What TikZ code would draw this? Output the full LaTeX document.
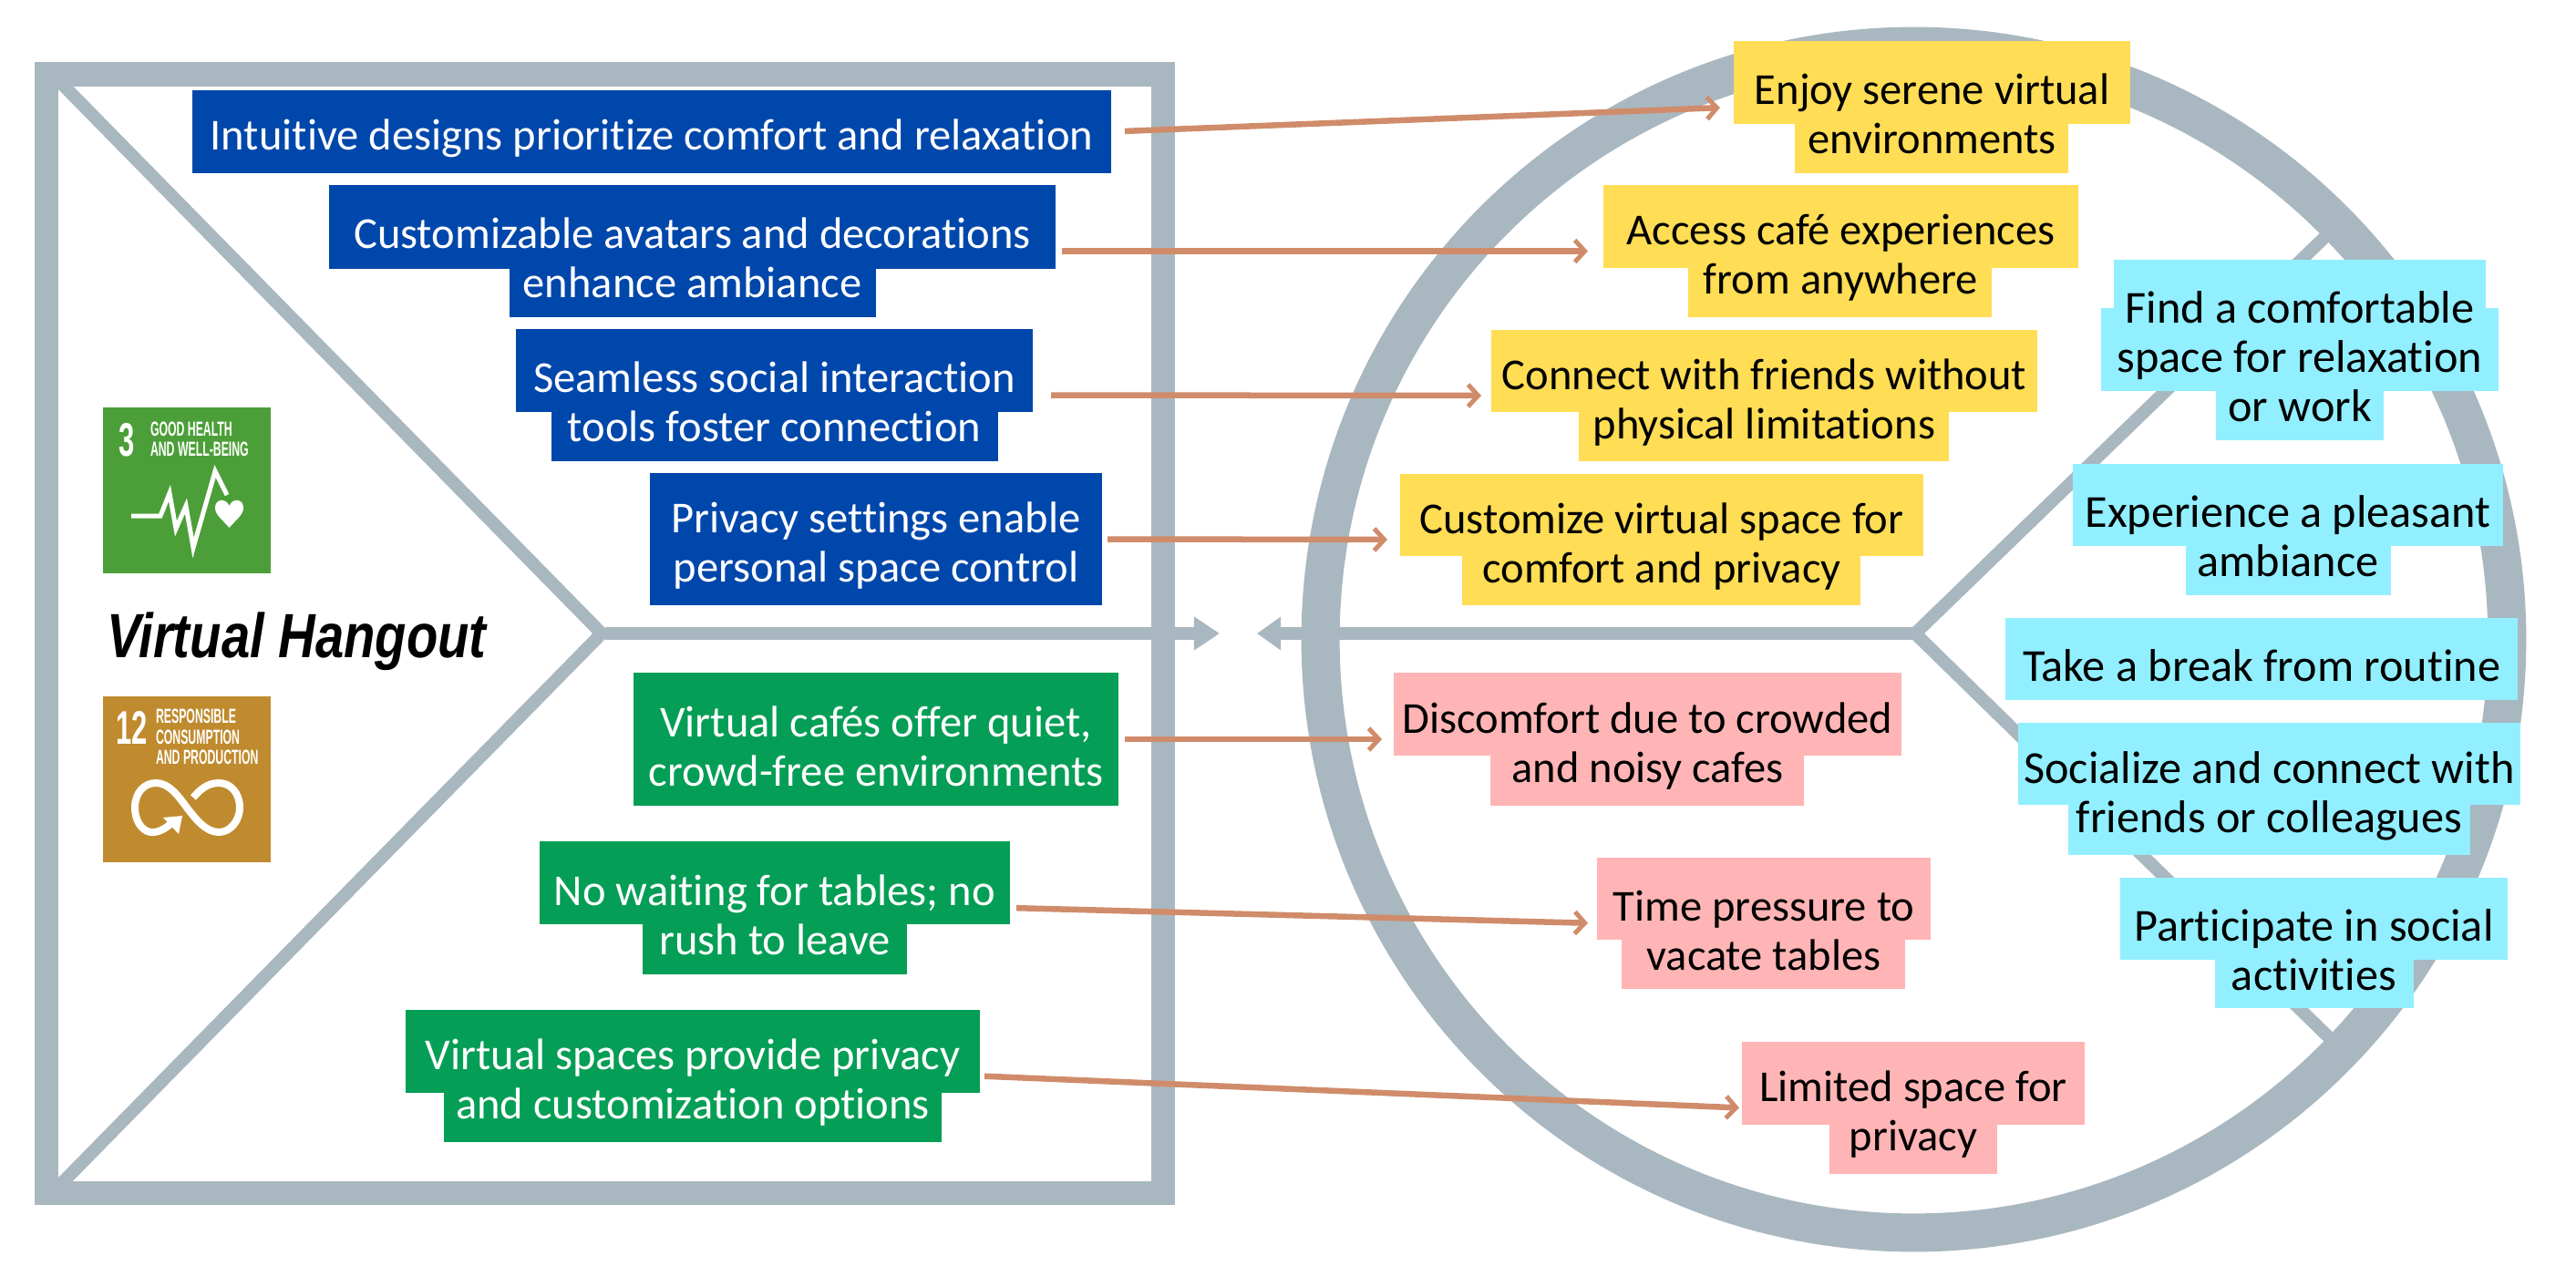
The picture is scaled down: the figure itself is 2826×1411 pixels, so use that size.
\documentclass[tikz,border=0pt]{standalone}
\usepackage{fontspec}
\setmainfont{Carlito}[Ligatures=NoCommon]
\newfontfamily\logosmall[FakeStretch=0.55]{Liberation Sans}
\newfontfamily\lognum[FakeStretch=0.6]{Liberation Sans}
\newfontfamily\titlefont[FakeStretch=0.82]{Liberation Sans}
\usetikzlibrary{arrows.meta}
\definecolor{framegray}{HTML}{A9B7C0}
\definecolor{connbrown}{HTML}{D08C6A}
\definecolor{hlblue}{HTML}{0047AB}
\definecolor{hlgreen}{HTML}{059E56}
\definecolor{hlyellow}{HTML}{FFDD55}
\definecolor{hlpink}{HTML}{FFB5B5}
\definecolor{hlcyan}{HTML}{91EFFF}
\definecolor{sdggreen}{HTML}{4C9F38}
\definecolor{sdgbrown}{HTML}{BF8B2E}
\newcommand{\hl}[5]{\fill[#1] (#2,#3) rectangle (#4,#5);}
\newcommand{\tbox}[7]{\node[#2, minimum width={(#5-#3)*0.01cm}, minimum height={(#6-#4)*0.01cm}] (#1) at ({(#3+#5)/2},{(#4+#6)/2}) {#7};}
\tikzset{
  labeltxt/.style={inner sep=0pt, outer sep=0pt, align=center, yshift=-0.075cm, font=\fontsize{13.8}{15.37}\selectfont},
  ontxtw/.style={labeltxt, text=white},
  ontxtk/.style={labeltxt, text=black},
  ontxtc/.style={labeltxt, text=black, font=\fontsize{14.3}{15.37}\selectfont},
  logolab/.style={inner sep=0pt, outer sep=0pt, anchor=base west, text=white, font=\logosmall\fontsize{6.35}{7}\selectfont\bfseries},
  lognr/.style={inner sep=0pt, outer sep=0pt, anchor=base west, text=white, font=\lognum\fontsize{14.7}{15}\selectfont\bfseries},
  framepen/.style={draw=framegray, line width=0.14cm, line join=miter},
  conn/.style={draw=connbrown, line width=0.065cm, -{Straight Barb[length=0.11cm, width=0.24cm, line width=0.05cm]}},
}
\begin{document}
\begin{tikzpicture}[x=0.01cm, y=-0.01cm]
\useasboundingbox (0,0) rectangle (2826,1411);
\fill[white] (0,0) rectangle (2826,1411);

% coordinates of the structure
\coordinate (lctop) at (60,84);
\coordinate (lcapex) at (660,695);
\coordinate (lcbot) at (60,1306);
\coordinate (lline) at (664,695);
\coordinate (ltip) at (1338,695);
\coordinate (rcapex) at (2101,695);
\coordinate (rctop) at (2565,246);
\coordinate (rcbot) at (2565,1148);
\coordinate (rline) at (2098,695);
\coordinate (rtip) at (1379,695);

% left chevron and arrow stub
\draw[framepen] (lctop) -- (lcapex) -- (lcbot);
\draw[draw=framegray, line width=0.145cm, -{Triangle[length=0.28cm, width=0.35cm]}] (lline) -- (ltip);
% frame
\draw[draw=framegray, line width=0.265cm] (51,81.5) rectangle (1276,1309);
% right chevron
\draw[framepen] (rctop) -- (rcapex) -- (rcbot);
\draw[draw=framegray, line width=0.145cm, -{Triangle[length=0.26cm, width=0.35cm]}] (rline) -- (rtip);
% circle
\draw[draw=framegray, line width=0.42cm] (2099.5,701.5) circle (6.505cm);

% SDG tiles
\fill[sdggreen] (113,447) rectangle (297,629);
\fill[sdgbrown] (113,764) rectangle (297,946);
\node[lognr] (s3n) at (130,500) {3};
\node[logolab] (s3a) at (165,478) {GOOD HEALTH};
\node[logolab] (s3b) at (165,500) {AND WELL-BEING};
\draw[white, line width=0.05cm, line join=miter] (144,566) -- (176,566) -- (186,541) -- (193,580) -- (204,555) -- (212,601) -- (236,517) -- (249,543);
\fill[white] (251.5,579) .. controls (244,570) and (236,565) .. (236,557) .. controls (236,547) and (248,546) .. (251.5,555) .. controls (255,546) and (267,547) .. (267,557) .. controls (267,565) and (259,570) .. (251.5,579) -- cycle;
\node[lognr] (s12n) at (127,816) {12};
\node[logolab] (s12a) at (171,793) {RESPONSIBLE};
\node[logolab] (s12b) at (171,816) {CONSUMPTION};
\node[logolab] (s12c) at (171,838) {AND PRODUCTION};
\draw[white, line width=0.08cm] (192,899) .. controls (182,911) and (170,914) .. (165,913) .. controls (155,911) and (148,900) .. (148,886) .. controls (148,870) and (158,859) .. (171,859) .. controls (186,859) and (196,874) .. (205,886) .. controls (215,899) and (226,913) .. (240,913) .. controls (253,913) and (263,900) .. (263,886) .. controls (263,870) and (253,859) .. (240,859) .. controls (227,859) and (219,867) .. (212,875);
\fill[white] (179,897) -- (200,895) -- (196,915) -- cycle;

% title
\node[inner sep=0pt, outer sep=0pt, anchor=base west, font=\titlefont\fontsize{19.5}{22}\selectfont\bfseries\itshape] (title) at (117,721) {Virtual Hangout};

% highlight strips
\hl{hlblue}{211}{99}{1219}{190}
\hl{hlblue}{361}{203}{1158}{295}
\hl{hlblue}{559}{257}{961}{348}
\hl{hlblue}{566}{361}{1133}{452}
\hl{hlblue}{605}{415}{1095}{506}
\hl{hlblue}{713}{519}{1209}{664}
\hl{hlgreen}{695}{738}{1227}{884}
\hl{hlgreen}{592}{923}{1108}{1014}
\hl{hlgreen}{705}{978}{995}{1069}
\hl{hlgreen}{445}{1108}{1075}{1199}
\hl{hlgreen}{487}{1162}{1033}{1253}
\hl{hlyellow}{1902}{45}{2337}{136}
\hl{hlyellow}{1969}{99}{2269}{190}
\hl{hlyellow}{1759}{203}{2280}{294}
\hl{hlyellow}{1852}{257}{2185}{348}
\hl{hlyellow}{1636}{362}{2235}{452}
\hl{hlyellow}{1732}{416}{2138}{506}
\hl{hlyellow}{1536}{520}{2110}{610}
\hl{hlyellow}{1604}{574}{2041}{664}
\hl{hlpink}{1529}{738}{2086}{829}
\hl{hlpink}{1635}{793}{1979}{884}
\hl{hlpink}{1752}{941}{2118}{1031}
\hl{hlpink}{1779}{995}{2090}{1085}
\hl{hlpink}{1911}{1143}{2287}{1234}
\hl{hlpink}{2007}{1198}{2191}{1288}
\hl{hlcyan}{2319}{285}{2727}{375}
\hl{hlcyan}{2305}{338}{2741}{429}
\hl{hlcyan}{2431}{393}{2615}{483}
\hl{hlcyan}{2274}{509}{2746}{599}
\hl{hlcyan}{2398}{563}{2623}{653}
\hl{hlcyan}{2200}{678}{2762}{768}
\hl{hlcyan}{2214}{793}{2765}{883}
\hl{hlcyan}{2269}{847}{2710}{938}
\hl{hlcyan}{2326}{963}{2751}{1053}
\hl{hlcyan}{2430}{1017}{2648}{1106}

% texts
\tbox{b1}{ontxtw}{211}{99}{1219}{190}{Intuitive designs prioritize comfort and relaxation}
\tbox{b2}{ontxtw}{361}{203}{1158}{348}{Customizable avatars and decorations\\enhance ambiance}
\tbox{b3}{ontxtw}{566}{361}{1133}{506}{Seamless social interaction\\tools foster connection}
\tbox{b4}{ontxtw}{713}{519}{1209}{664}{Privacy settings enable\\personal space control}
\tbox{g1}{ontxtw}{695}{738}{1227}{884}{Virtual cafés offer quiet,\\crowd-free environments}
\tbox{g2}{ontxtw}{592}{923}{1108}{1069}{No waiting for tables; no\\rush to leave}
\tbox{g3}{ontxtw}{445}{1108}{1075}{1253}{Virtual spaces provide privacy\\and customization options}
\tbox{y1}{ontxtk}{1902}{45}{2337}{190}{Enjoy serene virtual\\environments}
\tbox{y2}{ontxtk}{1759}{203}{2280}{348}{Access café experiences\\from anywhere}
\tbox{y3}{ontxtk}{1636}{362}{2235}{506}{Connect with friends without\\physical limitations}
\tbox{y4}{ontxtk}{1536}{520}{2110}{664}{Customize virtual space for\\comfort and privacy}
\tbox{p1}{ontxtk}{1529}{738}{2086}{884}{Discomfort due to crowded\\and noisy cafes}
\tbox{p2}{ontxtk}{1752}{941}{2118}{1085}{Time pressure to\\vacate tables}
\tbox{p3}{ontxtk}{1911}{1143}{2287}{1288}{Limited space for\\privacy}
\tbox{c1}{ontxtc}{2305}{285}{2741}{483}{Find a comfortable\\space for relaxation\\or work}
\tbox{c2}{ontxtc}{2274}{509}{2746}{653}{Experience a pleasant\\ambiance}
\tbox{c3}{ontxtc}{2200}{678}{2762}{768}{Take a break from routine}
\tbox{c4}{ontxtc}{2214}{793}{2765}{938}{Socialize and connect with\\friends or colleagues}
\tbox{c5}{ontxtc}{2326}{963}{2751}{1106}{Participate in social\\activities}

% connectors (the label nodes sit 0.075cm low inside their strips)
\draw[conn, shorten <=0.15cm, shorten >=0.15cm] ([yshift=0.075cm]b1.east) -- ([yshift=0.075cm]y1.west);
\draw[conn, shorten <=0.07cm, shorten >=0.17cm] ([yshift=0.075cm]b2.east) -- ([yshift=0.075cm]y2.west);
\draw[conn, shorten <=0.20cm, shorten >=0.11cm] ([yshift=0.075cm]b3.east) -- ([yshift=0.075cm]y3.west);
\draw[conn, shorten <=0.06cm, shorten >=0.14cm] ([yshift=0.075cm]b4.east) -- ([yshift=0.075cm]y4.west);
\draw[conn, shorten <=0.07cm, shorten >=0.13cm] ([yshift=0.075cm]g1.east) -- ([yshift=0.075cm]p1.west);
\draw[conn, shorten <=0.07cm, shorten >=0.10cm] ([yshift=0.075cm]g2.east) -- ([yshift=0.075cm]p2.west);
\draw[conn, shorten <=0.05cm, shorten >=0.03cm] ([yshift=0.075cm]g3.east) -- ([yshift=0.075cm]p3.west);
\end{tikzpicture}
\end{document}
